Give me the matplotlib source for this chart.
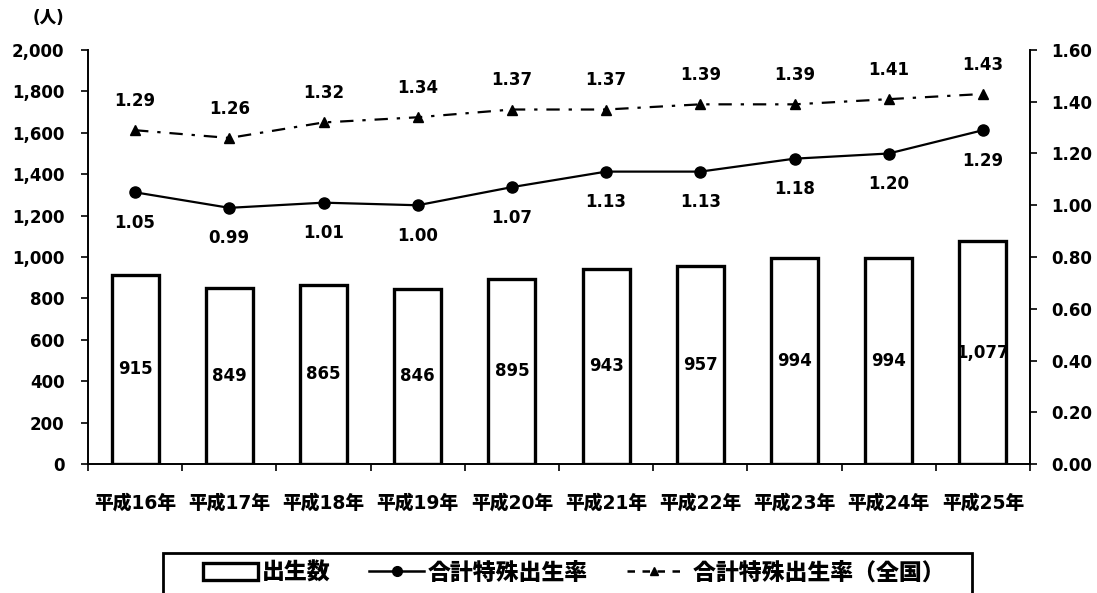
import numpy as np
import matplotlib
matplotlib.use('Agg')
import matplotlib.pyplot as plt
from matplotlib.patches import Patch, Rectangle
from matplotlib.lines import Line2D
from matplotlib.ticker import FuncFormatter, MultipleLocator

plt.rcParams['font.family'] = ['DejaVu Sans', 'Noto Sans CJK JP']
plt.rcParams['font.weight'] = 'bold'

years = ['平成16年', '平成17年', '平成18年', '平成19年', '平成20年',
         '平成21年', '平成22年', '平成23年', '平成24年', '平成25年']
births = [915, 849, 865, 846, 895, 943, 957, 994, 994, 1077]
tfr_pref = [1.05, 0.99, 1.01, 1.00, 1.07, 1.13, 1.13, 1.18, 1.20, 1.29]
tfr_nat = [1.29, 1.26, 1.32, 1.34, 1.37, 1.37, 1.39, 1.39, 1.41, 1.43]

fs = 12
W, H = 1097, 593
fig = plt.figure(figsize=(W/100, H/100), dpi=100)
ax = fig.add_axes([88/W, 1-464/H, (1030-88)/W, (464-50)/H])
ax2 = ax.twinx()

x = np.arange(len(years))
ax.bar(x, births, width=0.5, facecolor='white', edgecolor='black', linewidth=2.4, zorder=2)
for xi, b in zip(x, births):
    ax.text(xi, b/2, f'{b:,}', ha='center', va='center', fontsize=fs, fontweight='bold', zorder=3)

ax.set_xlim(-0.5, len(years)-0.5)
ax.set_ylim(0, 2000)
ax.yaxis.set_major_locator(MultipleLocator(200))
ax.yaxis.set_major_formatter(FuncFormatter(lambda v, p: f'{int(v):,}'))
ax.set_xticks(x)
ax.set_xticklabels(years, fontsize=13.5, fontweight='heavy')
ax.set_xticks(np.arange(-0.5, len(years), 1), minor=True)
ax.tick_params(axis='x', which='major', length=0, pad=21)
ax.tick_params(axis='x', which='minor', length=5, width=1.2, direction='out')
ax.tick_params(axis='y', length=5, width=1.2, labelsize=fs, pad=12)
for lb in ax.get_yticklabels():
    lb.set_fontweight('bold')

ax2.plot(x, tfr_pref, color='black', linewidth=1.6, marker='o', markersize=8, zorder=4)
ax2.plot(x, tfr_nat, color='black', linewidth=1.6, linestyle=(0, (6, 4, 1.5, 4)),
         marker='^', markersize=7, zorder=4)
for xi, v in zip(x, tfr_pref):
    ax2.annotate(f'{v:.2f}', (xi, v), xytext=(0, -22), textcoords='offset points',
                 ha='center', va='center', fontsize=fs, fontweight='bold')
for xi, v in zip(x, tfr_nat):
    ax2.annotate(f'{v:.2f}', (xi, v), xytext=(0, 21), textcoords='offset points',
                 ha='center', va='center', fontsize=fs, fontweight='bold')
ax2.set_ylim(0, 1.6)
ax2.yaxis.set_major_locator(MultipleLocator(0.2))
ax2.yaxis.set_major_formatter(FuncFormatter(lambda v, p: f'{v:.2f}'))
ax2.tick_params(axis='y', length=5, width=1.2, labelsize=fs, pad=10)
for lb in ax2.get_yticklabels():
    lb.set_fontweight('bold')

for a in (ax, ax2):
    a.spines['top'].set_visible(False)
    for s in a.spines.values():
        s.set_linewidth(1.4)
ax.spines['right'].set_visible(False)
ax2.spines['left'].set_visible(False)
ax2.spines['bottom'].set_visible(False)

fig.text(48/W, 1-18/H, '(人)', ha='center', va='center', fontsize=fs, fontweight='heavy')

# legend box (bottom edge runs off the image)
fig.patches.append(Rectangle((163/W, -0.05), (972-163)/W, 0.05+1-553/H, transform=fig.transFigure,
                             facecolor='none', edgecolor='black', linewidth=2))
handles = [
    Patch(facecolor='white', edgecolor='black', linewidth=2.4),
    Line2D([], [], color='black', linewidth=1.8, marker='o', markersize=7),
    Line2D([], [], color='black', linewidth=1.8, linestyle=(0, (3, 3)), marker='^', markersize=6),
]
labels = ['出生数', '合計特殊出生率', ' 合計特殊出生率（全国）']
leg = fig.legend(handles, labels, loc='center left', bbox_to_anchor=(203/W, 1-573/H),
                 ncol=3, frameon=False, prop={'size': 16.5, 'weight': 'heavy'},
                 handlelength=2.4, handletextpad=0.15, columnspacing=1.7,
                 borderpad=0, borderaxespad=0)

fig.savefig('out.png', dpi=100)
